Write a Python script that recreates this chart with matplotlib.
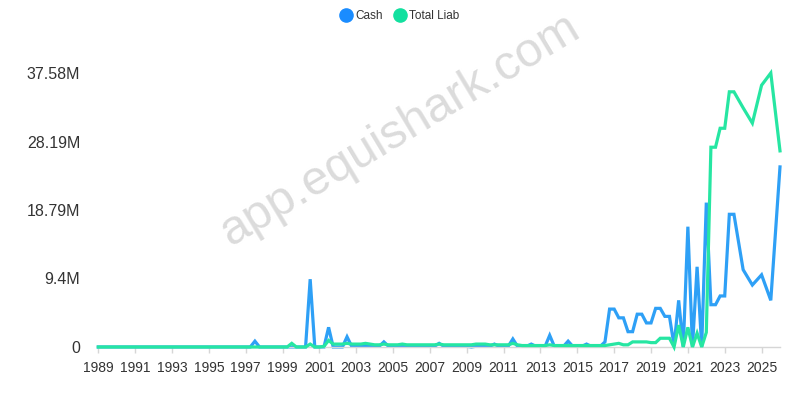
import matplotlib
matplotlib.use("Agg")
import matplotlib.pyplot as plt
from matplotlib.lines import Line2D
from matplotlib.ticker import FixedLocator, FixedFormatter

# ---- data (values in millions) ----
quarter_years = list(range(1989, 2024))
tail_dates = [2024.0, 2024.5, 2025.0, 2025.5, 2026.0]

cash = [
    0, 0, 0, 0,        # 1989
    0, 0, 0, 0,        # 1990
    0, 0, 0, 0,        # 1991
    0, 0, 0, 0,        # 1992
    0, 0, 0, 0,        # 1993
    0, 0, 0, 0,        # 1994
    0, 0, 0, 0,        # 1995
    0, 0, 0, 0,        # 1996
    0, 0, 0.8, 0,      # 1997
    0, 0, 0, 0,        # 1998
    0, 0, 0, 0,        # 1999
    0, 0, 9.3, 0,      # 2000
    0, 0, 2.7, 0,      # 2001
    0, 0, 1.4, 0.1,    # 2002
    0.1, 0.1, 0.2, 0.1,  # 2003
    0.1, 0.1, 0.7, 0.1,  # 2004
    0.1, 0.1, 0.2, 0.1,  # 2005
    0.1, 0.1, 0.1, 0.1,  # 2006
    0.1, 0.1, 0.5, 0.1,  # 2007
    0.1, 0.1, 0.1, 0.1,  # 2008
    0.1, 0.0, 0.1, 0.1,  # 2009
    0.1, 0.1, 0.4, 0.1,  # 2010
    0.1, 0.1, 1.1, 0.1,  # 2011
    0.1, 0.1, 0.4, 0.1,  # 2012
    0.1, 0.1, 1.6, 0.1,  # 2013
    0.1, 0.1, 0.8, 0.1,  # 2014
    0.1, 0.1, 0.4, 0.1,  # 2015
    0.1, 0.1, 0.7, 5.2,  # 2016
    5.2, 4.0, 4.0, 2.1,  # 2017
    2.1, 4.5, 4.5, 3.3,  # 2018
    3.3, 5.3, 5.3, 4.2,  # 2019
    4.2, 0.2, 6.4, 0.0,  # 2020
    16.5, 0.0, 11.0, 0.0,  # 2021
    19.8, 5.8, 5.8, 7.0,   # 2022
    7.0, 18.2, 18.2,       # 2023
    10.6, 8.5, 9.9, 6.4, 24.7,  # 2024.0 .. 2026.0
]

total_liab = [
    0, 0, 0, 0,        # 1989
    0, 0, 0, 0,        # 1990
    0, 0, 0, 0,        # 1991
    0, 0, 0, 0,        # 1992
    0, 0, 0, 0,        # 1993
    0, 0, 0, 0,        # 1994
    0, 0, 0, 0,        # 1995
    0, 0, 0, 0,        # 1996
    0, 0, 0, 0,        # 1997
    0, 0, 0, 0,        # 1998
    0, 0, 0.5, 0,      # 1999
    0, 0, 0.4, 0,      # 2000
    0, 0.1, 0.9, 0.4,  # 2001
    0.4, 0.4, 0.5, 0.4,  # 2002
    0.4, 0.4, 0.5, 0.4,  # 2003
    0.3, 0.3, 0.4, 0.3,  # 2004
    0.3, 0.3, 0.4, 0.3,  # 2005
    0.3, 0.3, 0.3, 0.3,  # 2006
    0.3, 0.3, 0.4, 0.3,  # 2007
    0.3, 0.3, 0.3, 0.3,  # 2008
    0.3, 0.3, 0.4, 0.4,  # 2009
    0.4, 0.3, 0.3, 0.3,  # 2010
    0.3, 0.3, 0.5, 0.3,  # 2011
    0.2, 0.2, 0.2, 0.2,  # 2012
    0.2, 0.2, 0.3, 0.2,  # 2013
    0.2, 0.2, 0.2, 0.2,  # 2014
    0.2, 0.2, 0.2, 0.2,  # 2015
    0.2, 0.2, 0.2, 0.3,  # 2016
    0.4, 0.5, 0.3, 0.3,  # 2017
    0.7, 0.7, 0.7, 0.7,  # 2018
    0.6, 0.6, 1.2, 1.2,  # 2019
    1.2, 0.0, 3.0, 0.0,  # 2020
    2.7, 0.0, 1.9, 0.0,  # 2021
    2.0, 27.4, 27.4, 30.0,  # 2022
    30.0, 35.0, 35.0,       # 2023
    32.8, 30.7, 35.9, 37.58, 26.9,  # 2024.0 .. 2026.0
]

y_ticks = [0, 9.395, 18.79, 28.185, 37.58]
y_tick_labels = ["0", "9.4M", "18.79M", "28.19M", "37.58M"]
x_ticks = list(range(1989, 2026, 2))
series_names = ["Cash", "Total Liab"]

dates = [y + q / 4 for y in quarter_years for q in range(4)][:-1] + tail_dates

# ---- styling ----
plt.rcParams['font.family'] = ['Liberation Sans', 'DejaVu Sans']
cash_color = "#2ea0f6"
liab_color = "#26e6a2"
cash_legend = "#1a8cff"
liab_legend = "#12e09f"

fig = plt.figure(figsize=(8, 4), dpi=100)
ax = fig.add_axes([98.3 / 800, 1 - 347 / 400, (780 - 98.3) / 800, (347 - 73) / 400])

ax.plot(dates, cash, color=cash_color, lw=2.3, clip_on=False, zorder=2,
        solid_joinstyle="miter")
ax.plot(dates, total_liab, color=liab_color, lw=2.3, clip_on=False, zorder=3,
        solid_joinstyle="miter")

ax.set_xlim(1989, 2026)
ax.set_ylim(0, 37.58)

ax.xaxis.set_major_locator(FixedLocator(x_ticks))
ax.xaxis.set_major_formatter(FixedFormatter([str(x) for x in x_ticks]))
ax.yaxis.set_major_locator(FixedLocator(y_ticks))
ax.yaxis.set_major_formatter(FixedFormatter(y_tick_labels))

for s in ["top", "right", "left"]:
    ax.spines[s].set_visible(False)
ax.spines["bottom"].set_color("#d6d6d6")
ax.spines["bottom"].set_linewidth(1)

ax.tick_params(axis="x", length=4, width=1, color="#d6d6d6", labelsize=10,
               labelcolor="#333333", pad=6)
ax.tick_params(axis="y", length=0, labelsize=11.5, labelcolor="#333333", pad=13)

# watermark
fig.text(0.5, 1 - 130 / 400, "app.equishark.com", fontsize=35, color="#c4c4c4",
         alpha=0.6, rotation=31, ha="center", va="center", zorder=0)

# legend
handles = [
    Line2D([], [], marker="o", linestyle="none", markersize=9.5,
           markerfacecolor=cash_legend, markeredgecolor=cash_legend),
    Line2D([], [], marker="o", linestyle="none", markersize=9.5,
           markerfacecolor=liab_legend, markeredgecolor=liab_legend),
]
fig.legend(handles, series_names, loc="center", bbox_to_anchor=(0.5, 1 - 16 / 400),
           ncol=2, frameon=False, fontsize=8.5, handletextpad=0.3,
           columnspacing=0.9, handlelength=1.0, labelcolor="#333333")

fig.savefig("out.png", dpi=100)
